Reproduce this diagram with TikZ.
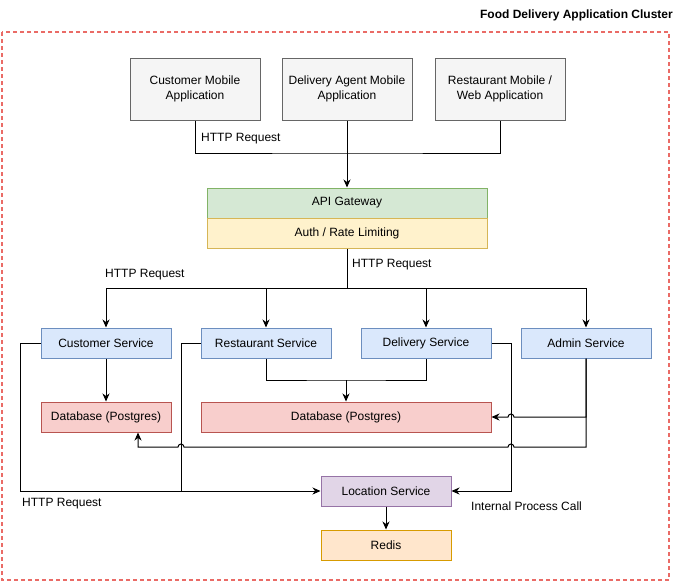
\documentclass[tikz,border=0pt]{standalone}
\usepackage{fontspec}
\setmainfont{Liberation Sans}
\usepackage{tikz}
\usetikzlibrary{arrows.meta,calc}
\definecolor{rClient}{RGB}{245,245,245}
\definecolor{rClientLine}{RGB}{102,102,102}
\definecolor{rGate}{RGB}{213,232,212}
\definecolor{rGateLine}{RGB}{130,179,102}
\definecolor{rAuth}{RGB}{255,242,204}
\definecolor{rAuthLine}{RGB}{214,182,86}
\definecolor{rSvc}{RGB}{218,232,252}
\definecolor{rSvcLine}{RGB}{108,142,191}
\definecolor{rDb}{RGB}{248,206,204}
\definecolor{rDbLine}{RGB}{184,84,80}
\definecolor{rLoc}{RGB}{225,213,231}
\definecolor{rLocLine}{RGB}{150,115,166}
\definecolor{rCache}{RGB}{255,230,204}
\definecolor{rCacheLine}{RGB}{215,155,0}
\definecolor{rCluster}{RGB}{234,107,102}

\begin{document}
\begin{tikzpicture}[
			x=1pt,y=-1pt,
			box/.style={
				minimum width=130pt,
				minimum height=30pt,
				align=center,
				inner sep=2pt,
				font=\fontsize{12pt}{15pt}\selectfont,
				line width=1pt
			},
			clientbox/.style={box,minimum height=62pt,draw=rClientLine,fill=rClient},
			svcbox/.style={box,draw=rSvcLine,fill=rSvc},
			dbbox/.style={box,draw=rDbLine,fill=rDb},
			link/.style={line width=1pt},
			arr/.style={link,-{Stealth[length=8pt,width=7pt,inset=2.5pt]}},
			lbl/.style={font=\fontsize{12pt}{14pt}\selectfont,inner sep=0pt}
			]
			\useasboundingbox (0,0) rectangle (677,582);
			% cluster frame
			\draw[rCluster,line width=1.5pt,dash pattern=on 4pt off 3pt] (2,32) rectangle (669,580);
			\node[anchor=east,font=\fontsize{12pt}{14pt}\selectfont\bfseries,inner sep=0pt] (title) at (673,15) {Food Delivery Application Cluster};

			% clients
			\node[clientbox] (custapp) at (195,89) {Customer Mobile\\Application};
			\node[clientbox] (agentapp) at (347,89) {Delivery Agent Mobile\\Application};
			\node[clientbox] (restapp) at (500,89) {Restaurant Mobile /\\Web Application};

			% gateway
			\node[box,minimum width=280pt,draw=rGateLine,fill=rGate] (gateway) at (347,203) {API Gateway};
			\node[box,minimum width=280pt,draw=rAuthLine,fill=rAuth] (auth) at (347,233) {Auth / Rate Limiting};

			% services
			\node[svcbox] (custsvc) at (106,343) {Customer Service};
			\node[svcbox] (restsvc) at (266,343) {Restaurant Service};
			\node[svcbox] (delsvc) at (426,343) {Delivery Service};
			\node[svcbox] (adminsvc) at (586,343) {Admin Service};

			% storage
			\node[dbbox] (custdb) at (106,417) {Database (Postgres)};
			\node[dbbox,minimum width=290pt] (maindb) at (346,417) {Database (Postgres)};
			\node[box,draw=rLocLine,fill=rLoc] (location) at (386,491) {Location Service};
			\node[box,draw=rCacheLine,fill=rCache] (redis) at (386,545) {Redis};

			% clients -> gateway
			\coordinate (clientjoin) at (347,153);
			\draw[link] (custapp.south) |- (clientjoin) -| (restapp.south);
			\draw[arr] (agentapp.south) -- (gateway.north);
			\node[lbl,anchor=west] (httpa) at (201,139) {HTTP Request};

			% gateway -> services
			\coordinate (split) at (347,288);
			\draw[link] (auth.south) -- (split);
			\foreach \s in {custsvc,restsvc,delsvc,adminsvc}
				\draw[arr] (split) -| (\s.north);
			\node[lbl,anchor=west] (httpb) at (352,265) {HTTP Request};
			\node[lbl,anchor=west] (httpc) at (105,275) {HTTP Request};

			% services -> databases
			\draw[arr] (custsvc.south) -- (custdb.north);
			\coordinate (dbjoin) at (346,380);
			\draw[link] (restsvc.south) |- (dbjoin) -| (delsvc.south);
			\draw[arr] (dbjoin) -- (maindb.north);

			% services -> location
			\coordinate (leftbus) at (181,491);
			\draw[link] (restsvc.west) -| (leftbus);
			\draw[arr] (custsvc.west) -- ++(-20,0) |- (location.west);
			\draw[arr] (delsvc.east) -- ++(20,0) |- (location.east);
			\draw[arr] (location) -- (redis);
			\node[lbl,anchor=west] (httpd) at (22,504) {HTTP Request};
			\node[lbl,anchor=west] (ipc) at (471,506) {Internal Process Call};

			% admin -> databases (line jumps)
			\draw[arr] (adminsvc.south) |- (514,417) arc[start angle=0,end angle=180,radius=3pt] -- (maindb.east);
			\coordinate (custdbin) at ($(custdb.south)+(32,0)$);
			\draw[arr] (adminsvc.south) |- (514,447) arc[start angle=0,end angle=180,radius=3pt]
				-- (184,447) arc[start angle=0,end angle=180,radius=3pt] -| (custdbin);
		\end{tikzpicture}
\end{document}
